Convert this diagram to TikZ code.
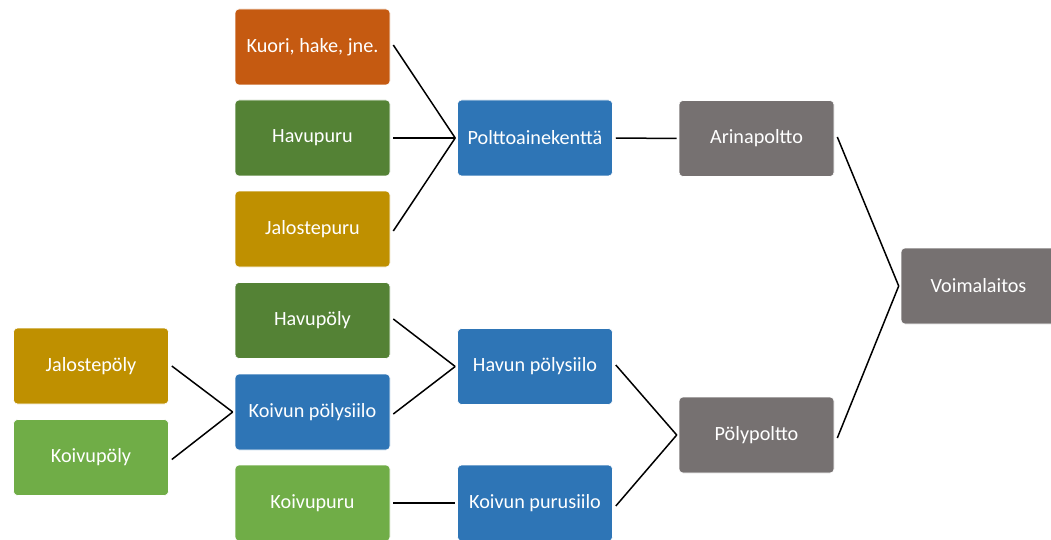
\documentclass[tikz,border=0pt]{standalone}
\usepackage{fontspec}
\setmainfont{Carlito}
\definecolor{corange}{HTML}{C55A11}
\definecolor{cdgreen}{HTML}{548235}
\definecolor{cgold}{HTML}{BF9000}
\definecolor{cblue}{HTML}{2E75B6}
\definecolor{clgreen}{HTML}{70AD47}
\definecolor{cgrey}{HTML}{767171}
\begin{document}
\begin{tikzpicture}[x=1pt,y=-1pt,
  box/.style={rounded corners=4pt, minimum width=155pt, minimum height=76pt,
    draw=white, line width=0.6pt, text=white, inner sep=0pt,
    font=\fontsize{20.2}{23}\selectfont},
  link/.style={draw=black, line width=1.5pt}]
\useasboundingbox (0,0) rectangle (1051,540);
\clip (0,0) rectangle (1051,540);
\fill[white] (0,0) rectangle (1051,540);
% column 2
\node[box, fill=corange] (kuori) at (312.5,47) {Kuori, hake, jne.};
\node[box, fill=cdgreen] (havupuru) at (312.5,138) {Havupuru};
\node[box, fill=cgold] (jalostepuru) at (312.5,229) {Jalostepuru};
\node[box, fill=cdgreen] (havupoly) at (312.5,320.5) {Havupöly};
\node[box, fill=cblue] (koivunpoly) at (312.5,412) {Koivun pölysiilo};
\node[box, fill=clgreen] (koivupuru) at (312.5,503) {Koivupuru};
% column 1
\node[box, fill=cgold] (jalostepoly) at (91,366) {Jalostepöly};
\node[box, fill=clgreen] (koivupoly) at (91,457.5) {Koivupöly};
% column 3
\node[box, fill=cblue] (polttoaine) at (535,138) {Polttoainekenttä};
\node[box, fill=cblue] (havunpoly) at (535,366.5) {Havun pölysiilo};
\node[box, fill=cblue] (koivunpuru) at (535,503) {Koivun purusiilo};
% column 4
\node[box, fill=cgrey] (arina) at (756.5,138.5) {Arinapoltto};
\node[box, fill=cgrey] (polypoltto) at (756.5,435) {Pölypoltto};
% column 5
\node[box, fill=cgrey] (voima) at (978.5,286) {Voimalaitos};
% junctions
\coordinate (jp) at ([xshift=-2pt]polttoaine.west);
\coordinate (jh) at ([xshift=-2pt]havunpoly.west);
\coordinate (jk) at ([xshift=-2pt]koivunpuru.west);
\coordinate (jks) at ([xshift=-2pt]koivunpoly.west);
\coordinate (ja) at ([xshift=-2pt]arina.west);
\coordinate (jpp) at ([xshift=-2pt]polypoltto.west);
\coordinate (jv) at ([xshift=-2pt]voima.west);
% connectors
\draw[link] ([xshift=3pt,yshift=2pt]kuori.east) -- (jp);
\draw[link] ([xshift=3pt]havupuru.east) -- (jp);
\draw[link] ([xshift=3pt,yshift=-2pt]jalostepuru.east) -- (jp);
\draw[link] ([xshift=3pt]polttoaine.east) -- (ja);
\draw[link] ([xshift=3pt,yshift=1.5pt]havupoly.east) -- (jh);
\draw[link] ([xshift=3pt,yshift=-2pt]koivunpoly.east) -- (jh);
\draw[link] ([xshift=3pt]koivupuru.east) -- (jk);
\draw[link] ([xshift=3pt]jalostepoly.east) -- (jks);
\draw[link] ([xshift=3pt,yshift=-2pt]koivupoly.east) -- (jks);
\draw[link] ([xshift=3pt,yshift=1.5pt]havunpoly.east) -- (jpp);
\draw[link] ([xshift=3pt,yshift=-3pt]koivunpuru.east) -- (jpp);
\draw[link] ([xshift=3pt,yshift=1.5pt]arina.east) -- (jv);
\draw[link] ([xshift=3pt,yshift=-3pt]polypoltto.east) -- (jv);
\end{tikzpicture}
\end{document}
